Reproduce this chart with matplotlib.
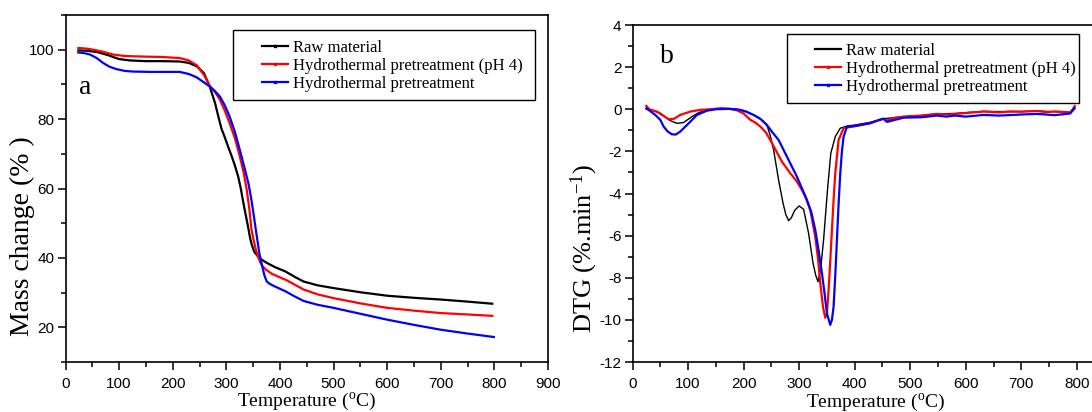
import numpy as np
import matplotlib
matplotlib.use("Agg")
import matplotlib.pyplot as plt
from matplotlib.lines import Line2D
from matplotlib.patches import Rectangle
from matplotlib.ticker import MultipleLocator

plt.rcParams['font.family'] = ['Liberation Sans', 'DejaVu Sans']
plt.rcParams['mathtext.fontset'] = 'custom'
plt.rcParams['mathtext.rm'] = 'Liberation Serif'
plt.rcParams['mathtext.it'] = 'Liberation Serif:italic'
plt.rcParams['axes.unicode_minus'] = False

labels = ["Raw material", "Hydrothermal pretreatment (pH 4)", "Hydrothermal pretreatment"]
colors = ["black", "red", "blue"]

# ---- TGA (panel a) ----
t_raw = [24, 40, 60, 80, 89, 100, 120, 150, 180, 213, 230, 245, 258, 269, 279, 285, 291, 297, 304, 310,
         316, 322, 327, 331, 336, 341, 344, 347, 352, 358, 365, 375, 390, 410, 428, 444, 470, 500, 550,
         600, 650, 700, 750, 796]
m_raw = [99.8, 99.7, 99.3, 98.4, 97.9, 97.3, 96.9, 96.7, 96.7, 96.6, 96.2, 95.2, 93.3, 89.4, 84.6, 80.8,
         77.2, 74.8, 71.8, 69.3, 66.6, 63.5, 60.0, 56.5, 52.5, 48.6, 46.0, 44.0, 41.8, 40.6, 39.6, 38.6,
         37.4, 36.1, 34.5, 33.2, 32.1, 31.3, 30.1, 29.1, 28.5, 28.0, 27.4, 26.8]

t_ph4 = [24, 40, 52, 70, 89, 110, 126, 150, 180, 213, 230, 245, 258, 269, 279, 288, 297, 306, 316, 325,
         332, 338, 343, 347, 351, 355, 360, 364, 368, 374, 385, 400, 412, 425, 444, 470, 500, 550, 600,
         650, 700, 750, 796]
m_ph4 = [100.5, 100.3, 100.0, 99.4, 98.6, 98.2, 98.1, 98.0, 97.9, 97.6, 96.9, 95.5, 92.8, 89.6, 87.8,
         85.6, 82.5, 78.9, 74.5, 69.3, 64.8, 59.7, 54.0, 48.1, 45.0, 42.5, 40.0, 38.5, 37.5, 36.6, 35.4,
         34.4, 33.6, 32.5, 30.9, 29.5, 28.4, 26.9, 25.6, 24.8, 24.1, 23.7, 23.3]

t_hyd = [24, 35, 46, 58, 70, 82, 95, 110, 126, 160, 213, 230, 245, 258, 269, 279, 288, 297, 306, 316,
         325, 333, 341, 346, 350, 355, 359, 362, 367, 371, 375, 380, 390, 410, 425, 444, 470, 500, 550,
         600, 650, 700, 750, 799]
m_hyd = [99.2, 99.0, 98.6, 97.6, 96.2, 95.1, 94.4, 93.9, 93.7, 93.6, 93.6, 93.0, 92.0, 90.6, 89.4, 88.0,
         86.5, 84.0, 80.8, 76.3, 71.2, 66.5, 61.6, 57.5, 53.5, 48.1, 44.0, 41.0, 37.5, 35.0, 33.3, 32.6,
         31.8, 30.4, 29.1, 27.6, 26.5, 25.6, 23.9, 22.2, 20.7, 19.3, 18.2, 17.2]

# ---- DTG (panel b) ----
td_raw = [25, 35, 50, 68, 80, 92, 107, 120, 135, 150, 170, 190, 205, 220, 235, 242, 248, 254, 263, 271,
          276, 281, 286, 292, 300, 308, 317, 325, 330, 334, 339, 344, 351, 357, 365, 374, 386, 400, 428,
          452, 488, 520, 548, 580, 632, 680, 728, 760, 788, 795]
d_raw = [0.0, -0.05, -0.19, -0.54, -0.67, -0.63, -0.35, -0.15, -0.05, 0.0, 0.02, 0.0, -0.1, -0.3, -0.55,
         -0.75, -1.25, -1.93, -3.36, -4.46, -5.0, -5.29, -5.15, -4.8, -4.59, -4.75, -5.89, -7.31, -7.9,
         -8.19, -7.5, -6.2, -3.83, -2.09, -1.3, -0.9, -0.8, -0.75, -0.62, -0.45, -0.35, -0.3, -0.22,
         -0.2, -0.1, -0.12, -0.08, -0.12, -0.15, 0.1]

td_ph4 = [25, 30, 44, 55, 65, 75, 86, 104, 122, 140, 160, 175, 188, 200, 212, 222, 230, 240, 248, 258,
          269, 284, 295, 305, 312, 320, 329, 334, 338, 343, 347, 350, 353, 356, 359, 362, 365, 371, 380,
          390, 400, 428, 440, 452, 456, 470, 488, 520, 548, 570, 600, 632, 660, 680, 700, 728, 745, 760,
          788, 793, 796]
d_ph4 = [0.16, 0.0, -0.11, -0.3, -0.48, -0.45, -0.27, -0.11, -0.03, 0.0, 0.05, 0.02, -0.05, -0.2, -0.5,
         -0.65, -0.82, -1.1, -1.46, -1.95, -2.49, -3.04, -3.4, -3.83, -4.2, -4.78, -6.05, -7.1, -8.26,
         -9.4, -9.9, -9.7, -8.58, -7.2, -5.73, -4.3, -3.04, -1.46, -0.9, -0.85, -0.8, -0.66, -0.55,
         -0.45, -0.55, -0.42, -0.35, -0.3, -0.22, -0.25, -0.18, -0.11, -0.15, -0.1, -0.12, -0.08, -0.14,
         -0.1, -0.15, 0.0, 0.15]

td_hyd = [25, 30, 41, 50, 56, 63, 71, 78, 86, 101, 116, 134, 150, 175, 194, 205, 218, 230, 242, 252,
          263, 278, 296, 314, 322, 329, 335, 341, 346, 350, 356, 359, 362, 365, 368, 371, 374, 377, 380,
          386, 400, 428, 445, 452, 458, 488, 520, 548, 565, 580, 600, 632, 660, 700, 728, 760, 788, 796]
d_hyd = [0.05, -0.05, -0.27, -0.5, -0.82, -1.05, -1.19, -1.2, -1.06, -0.67, -0.27, -0.07, 0.0, 0.02,
         -0.03, -0.12, -0.27, -0.45, -0.75, -1.1, -1.46, -2.25, -3.2, -4.31, -4.9, -5.73, -6.7, -7.79,
         -8.8, -9.69, -10.24, -10.0, -9.37, -7.9, -6.2, -4.5, -3.04, -2.0, -1.3, -0.83, -0.8, -0.66,
         -0.5, -0.45, -0.6, -0.4, -0.38, -0.3, -0.35, -0.3, -0.35, -0.27, -0.3, -0.25, -0.22, -0.28,
         -0.2, 0.05]

W, H = 1092, 412
fig = plt.figure(figsize=(W / 100, H / 100), dpi=100)

def px(x0, y0, x1, y1):
    # pixel box -> figure fraction [left, bottom, width, height]
    return [x0 / W, 1 - y1 / H, (x1 - x0) / W, (y1 - y0) / H]

ax1 = fig.add_axes(px(65.5, 15, 548, 362))
ax2 = fig.add_axes(px(632.5, 25, 1092, 362))

serif = 'Liberation Serif'

def style(ax):
    for s in ax.spines.values():
        s.set_linewidth(1.2)
    ax.tick_params(which='both', direction='out', top=False, right=False, width=1.1,
                   labelsize=11)
    ax.tick_params(which='major', length=6, pad=2)
    ax.tick_params(which='minor', length=3.5)
    ax.tick_params(axis='x', pad=5)

# panel a
ax1.plot(t_raw, m_raw, color=colors[0], lw=1.6)
ax1.plot(t_ph4, m_ph4, color=colors[1], lw=1.6)
ax1.plot(t_hyd, m_hyd, color=colors[2], lw=1.6)
ax1.set_xlim(0, 900)
ax1.set_ylim(10, 110)
ax1.xaxis.set_major_locator(MultipleLocator(100))
ax1.xaxis.set_minor_locator(MultipleLocator(50))
ax1.yaxis.set_major_locator(MultipleLocator(20))
ax1.yaxis.set_minor_locator(MultipleLocator(10))
style(ax1)
ax1.set_xlabel(r'Temperature ($^{\rm o}$C)', family=serif, fontsize=14)
ax1.set_ylabel('Mass change (% )', family=serif, fontsize=20)
ax1.xaxis.set_label_coords(0.5, -0.082)
ax1.yaxis.set_label_coords(-0.064, 0.363)
ax1.text(0.04, 0.79, 'a', transform=ax1.transAxes, family=serif, fontsize=20,
         ha='center', va='center')

# panel b
ax2.plot(td_raw, d_raw, color=colors[0], lw=1.0)
ax2.plot(td_ph4, d_ph4, color=colors[1], lw=1.6)
ax2.plot(td_hyd, d_hyd, color=colors[2], lw=1.6)
ax2.set_xlim(0, (1092 - 632.5) / 0.5555)
ax2.set_ylim(-12, 4)
ax2.xaxis.set_major_locator(MultipleLocator(100))
ax2.xaxis.set_minor_locator(MultipleLocator(50))
ax2.yaxis.set_major_locator(MultipleLocator(2))
ax2.yaxis.set_minor_locator(MultipleLocator(1))
style(ax2)
ax2.spines['right'].set_visible(False)
ax2.set_xlabel(r'Temperature ($^{\rm o}$C)', family=serif, fontsize=14)
ax2.set_ylabel(r'DTG (%.min$^{-1}$)', family=serif, fontsize=19)
ax2.xaxis.set_label_coords(0.528, -0.09)
ax2.yaxis.set_label_coords(-0.07, 0.338)
ax2.text(0.075, 0.906, 'b', transform=ax2.transAxes, family=serif, fontsize=20,
         ha='center', va='center')

# legends: frame drawn as a rectangle, entries from a frameless legend
def legend_box(ax, box, anchor, marks):
    x0, y0, x1, y1 = box
    fig.patches.append(Rectangle((x0 / W, 1 - y1 / H), (x1 - x0) / W, (y1 - y0) / H,
                                 transform=fig.transFigure, fill=False, ec='black', lw=1.0))
    handles = [Line2D([], [], color=c, lw=1.6, marker='s' if mk else None, markersize=2)
               for c, mk in zip(colors, marks)]
    ax.legend(handles, labels, loc='upper left', frameon=False,
              bbox_to_anchor=(anchor[0] / W, 1 - anchor[1] / H),
              bbox_transform=fig.transFigure, borderpad=0, borderaxespad=0,
              handlelength=1.6, handletextpad=0.3, labelspacing=0.12,
              prop={'family': serif, 'size': 12})

legend_box(ax1, (232.7, 30, 535, 100), (261.7, 39.5), [True, True, True])
legend_box(ax2, (787.4, 34.3, 1078.5, 102.7), (814.5, 43), [False, True, True])

fig.savefig('out.png', dpi=100)
